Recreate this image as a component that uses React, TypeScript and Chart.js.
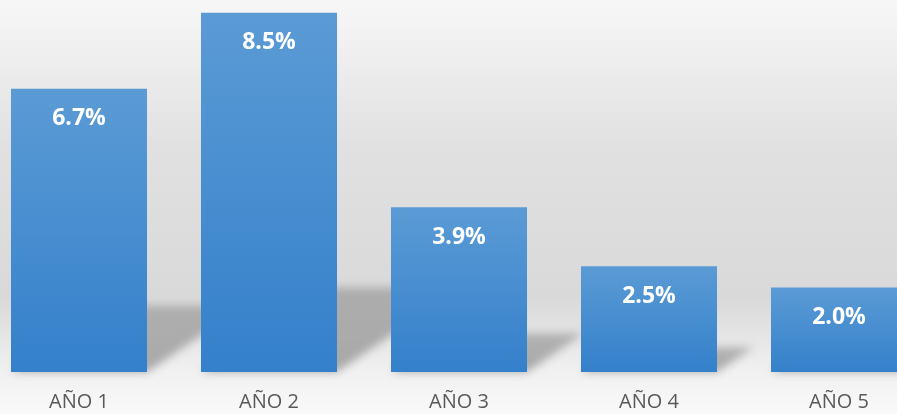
import React, { useEffect, useRef } from "react";
import { Chart, registerables } from "chart.js";

Chart.register(...registerables);

const categories = ["AÑO 1", "AÑO 2", "AÑO 3", "AÑO 4", "AÑO 5"];
const values = [6.7, 8.5, 3.9, 2.5, 2.0];
const valueLabels = ["6.7%", "8.5%", "3.9%", "2.5%", "2.0%"];

const FONT = "'Open Sans', 'Noto Sans', sans-serif";

const backgroundPlugin = {
  id: "bgGradient",
  beforeDraw(chart: any) {
    const { ctx, width, height } = chart;
    const g = ctx.createLinearGradient(0, 0, 0, 414);
    g.addColorStop(0, "#f7f7f7");
    g.addColorStop(0.35, "#e1e1e1");
    g.addColorStop(0.72, "#d9d9d9");
    g.addColorStop(0.9, "#f1f1f1");
    g.addColorStop(1, "#f9f9f9");
    ctx.save();
    ctx.fillStyle = g;
    ctx.fillRect(0, 0, width, height);
    ctx.restore();
  },
};

const shadowPlugin = {
  id: "barShadows",
  beforeDatasetsDraw(chart: any) {
    const { ctx } = chart;
    const meta = chart.getDatasetMeta(0);
    ctx.save();
    ctx.filter = "blur(4px)";
    meta.data.forEach((bar: any) => {
      const { x, y, base, width } = bar.getProps(["x", "y", "base", "width"], true);
      const left = x - width / 2;
      const right = x + width / 2;
      const h = 0.235 * (base - y);
      const dx = 1.47 * h;
      const g = ctx.createLinearGradient(0, base, 0, base - h);
      g.addColorStop(0, "rgba(150,150,150,0.8)");
      g.addColorStop(1, "rgba(150,150,150,0.65)");
      ctx.fillStyle = g;
      ctx.beginPath();
      ctx.moveTo(left, base);
      ctx.lineTo(right, base);
      ctx.lineTo(right + dx, base - h);
      ctx.lineTo(left + dx, base - h);
      ctx.closePath();
      ctx.fill();
    });
    ctx.restore();
  },
};

const labelPlugin = {
  id: "barLabels",
  afterDatasetsDraw(chart: any) {
    const { ctx } = chart;
    const meta = chart.getDatasetMeta(0);
    ctx.save();
    ctx.font = `bold 23px ${FONT}`;
    ctx.fillStyle = "#ffffff";
    ctx.textAlign = "center";
    ctx.textBaseline = "middle";
    meta.data.forEach((bar: any, i: number) => {
      const { x, y } = bar.getProps(["x", "y"], true);
      ctx.fillText(valueLabels[i], x, y + 30);
    });
    ctx.restore();
  },
};

export default function App() {
  const canvasRef = useRef<HTMLCanvasElement | null>(null);

  useEffect(() => {
    if (!canvasRef.current) return;
    const chart = new Chart(canvasRef.current, {
      type: "bar",
      data: {
        labels: categories,
        datasets: [
          {
            data: values,
            backgroundColor: (c: any) => {
              const chart = c.chart;
              if (!chart.chartArea || c.dataIndex === undefined) return "#4a8fd2";
              const yS = chart.scales.y;
              const top = yS.getPixelForValue(values[c.dataIndex]);
              const bottom = yS.getPixelForValue(0);
              const g = chart.ctx.createLinearGradient(0, top, 0, bottom);
              g.addColorStop(0, "#5b9bd5");
              g.addColorStop(1, "#3480cb");
              return g;
            },
            borderWidth: 0,
            barPercentage: 0.716,
            categoryPercentage: 1,
          },
        ],
      },
      options: {
        animation: false,
        responsive: true,
        maintainAspectRatio: false,
        layout: { padding: 0 },
        plugins: {
          legend: { display: false },
          tooltip: { enabled: false },
        },
        scales: {
          x: {
            offset: true,
            grid: { display: false, drawTicks: false },
            border: { display: false },
            ticks: {
              color: "#595959",
              font: { family: FONT, size: 20 },
              padding: 18,
            },
          },
          y: {
            display: false,
            min: 0,
            max: 8.8,
          },
        },
      },
      plugins: [backgroundPlugin, shadowPlugin, labelPlugin],
    });
    return () => chart.destroy();
  }, []);

  return (
    <div
      style={{
        position: "fixed",
        left: 0,
        top: 0,
        width: "897px",
        height: "414px",
        overflow: "hidden",
        background: "#f8f8f8",
      }}
    >
      <div
        style={{
          position: "absolute",
          left: "-16px",
          top: 0,
          width: "950px",
          height: "432px",
        }}
      >
        <canvas ref={canvasRef} />
      </div>
    </div>
  );
}
